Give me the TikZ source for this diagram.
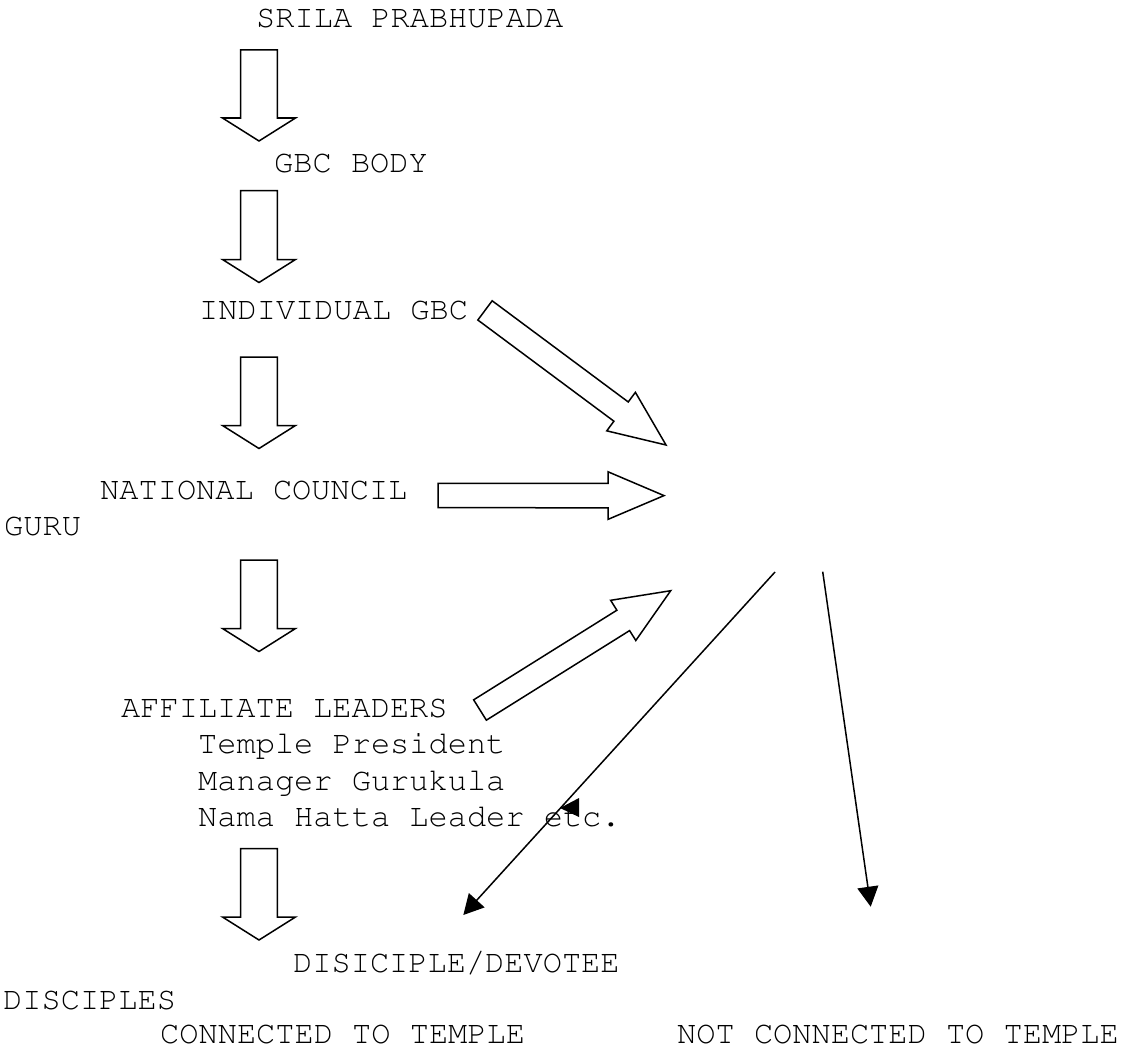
\documentclass[tikz,border=0pt]{standalone}
\usepackage[T1]{fontenc}
\usepackage{courier}
\usetikzlibrary{calc,arrows.meta}

% hollow block arrow: #1 tail centre, #2 tip, #3 shaft half width,
% #4 head half width, #5 head length
\newcommand\fatarrow[5]{%
  \coordinate (fa-base) at ($(#2)!#5!(#1)$);
  \draw[blockarrow]
    ($(#1)!#3!90:(#2)$) -- ($(fa-base)!#3!90:(#2)$) --
    ($(fa-base)!#4!90:(#2)$) -- (#2) --
    ($(fa-base)!#4!-90:(#2)$) -- ($(fa-base)!#3!-90:(#2)$) --
    ($(#1)!#3!-90:(#2)$) -- cycle;
}

\begin{document}
\begin{tikzpicture}[x=1pt,y=-1pt,
  lbl/.style={anchor=base west,inner sep=0pt,font=\ttfamily\fontsize{32pt}{36.5pt}\selectfont},
  blockarrow/.style={draw=black,fill=white,line width=1.5pt,line join=miter},
  thinarrow/.style={draw=black,line width=1.5pt,-{Triangle[length=20pt,width=21pt]}}]
\useasboundingbox (0,0) rectangle (1123,1046);

% labels
\node[lbl] (srila)   at (256,28)    {SRILA PRABHUPADA};
\node[lbl] (gbcbody) at (274,172)   {GBC BODY};
\node[lbl] (indgbc)  at (199,319)   {INDIVIDUAL GBC};
\node[lbl] (natc)    at (100,499.5) {NATIONAL COUNCIL};
\node[lbl] (guru)    at (4,535)     {GURU};
\node[lbl] (affl)    at (121,717)   {AFFILIATE LEADERS};
\node[lbl] (tp)      at (198,753)   {Temple President};
\node[lbl] (mg)      at (198,790)   {Manager Gurukula};
\node[lbl] (nh)      at (198,826)   {Nama Hatta Leader etc.};
\node[lbl] (disdev)  at (293,972)   {DISICIPLE/DEVOTEE};
\node[lbl] (disc)    at (3,1009)    {DISCIPLES};
\node[lbl] (conn)    at (160,1043.5) {CONNECTED TO TEMPLE};
\node[lbl] (notconn) at (677,1043.5) {NOT CONNECTED TO TEMPLE};

% vertical chain of hollow arrows
\foreach \t/\h [count=\i] in {50/141, 190.5/282.5, 357/448.5, 560/651.5, 848.5/940}{
  \coordinate (d\i-t) at (259,\t);
  \coordinate (d\i-h) at (259,\h);
  \fatarrow{d\i-t}{d\i-h}{18.3pt}{36.5pt}{23pt}
}

% hollow arrows pointing to the guru
\coordinate (g1-t) at (485,310.4);  \coordinate (g1-h) at (666,445);
\coordinate (g2-t) at (438,495.5);  \coordinate (g2-h) at (664,495.6);
\coordinate (g3-t) at (480,710);    \coordinate (g3-h) at (670.7,590.7);
\fatarrow{g1-t}{g1-h}{12pt}{24pt}{56pt}
\fatarrow{g2-t}{g2-h}{12.2pt}{23.8pt}{56pt}
\fatarrow{g3-t}{g3-h}{12pt}{23.7pt}{56pt}

% thin arrows towards the disciples
\coordinate (s1) at (775,572);   \coordinate (e1) at (463.3,915);
\coordinate (s2) at (822.7,571.7); \coordinate (e2) at (870.7,906.7);
\draw[thinarrow] (s1) -- (e1);
\draw[thinarrow] (s2) -- (e2);

% small solid triangle on the left thin arrow
\coordinate (mk) at (560,808);
\fill (mk) -- ++(19,-10) -- ++(0,19) -- cycle;
\end{tikzpicture}
\end{document}
